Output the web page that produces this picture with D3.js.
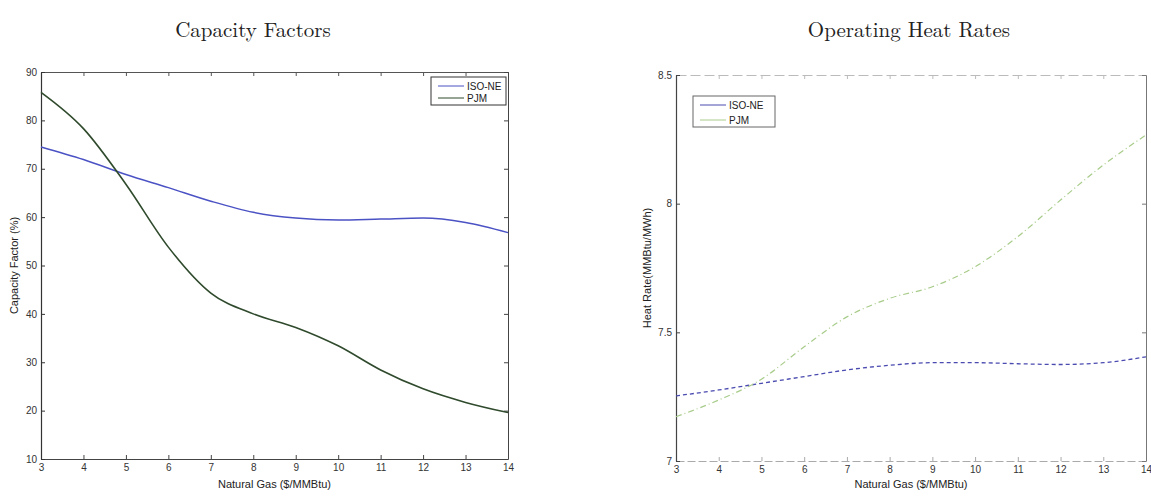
<!DOCTYPE html>
<html>
<head>
<meta charset="utf-8">
<script src="https://cdn.jsdelivr.net/npm/d3@7"></script>
<style>
  html, body { margin: 0; padding: 0; background: #fff; }
  svg { display: block; }
  .tick text { font-family: "Liberation Sans", Arial, sans-serif; font-size: 10px; fill: #333; }
</style>
</head>
<body>
<svg id="chart" width="1151" height="496"></svg>
<script>
// Natural gas price points ($/MMBtu)
const gasPrices = [3, 4, 5, 6, 7, 8, 9, 10, 11, 12, 13, 14];

// Capacity factors (%)
const capIsoNe = [74.5, 71.9, 68.8, 66.1, 63.3, 61.0, 59.8, 59.4, 59.6, 59.8, 58.9, 56.8];
const capPjm   = [85.8, 78.3, 66.8, 53.8, 44.3, 40.0, 37.2, 33.4, 28.4, 24.5, 21.7, 19.6];

// Operating heat rates (MMBtu/MWh)
const hrIsoNe = [7.253, 7.276, 7.302, 7.328, 7.354, 7.372, 7.382, 7.382, 7.378, 7.375, 7.382, 7.405];
const hrPjm   = [7.172, 7.237, 7.318, 7.444, 7.56, 7.632, 7.677, 7.755, 7.872, 8.014, 8.15, 8.267];

const xTicks = [3, 4, 5, 6, 7, 8, 9, 10, 11, 12, 13, 14];
const capTicks = [10, 20, 30, 40, 50, 60, 70, 80, 90];
const hrTicks = [7, 7.5, 8, 8.5];
const seriesNames = ["ISO-NE", "PJM"];

const svg = d3.select("#chart");
const serif = "'Latin Modern Roman', 'DejaVu Serif', 'Liberation Serif', serif";
const sans = "'Liberation Sans', Arial, sans-serif";

function panel(opts) {
  const { x0, x1, y0, y1, yDomain, yTicks, yFmt, title, titleX, yLabel, yLabelX,
          series, frame, legend } = opts;
  const g = svg.append("g");
  const x = d3.scaleLinear().domain([3, 14]).range([x0, x1]);
  const y = d3.scaleLinear().domain(yDomain).range([y1, y0]);

  // title
  g.append("text").attr("x", titleX).attr("y", 37).attr("text-anchor", "middle")
    .attr("font-family", serif).attr("font-size", 21).attr("fill", "#222").text(title);

  // bottom axis, ticks pointing inward
  const bx = g.append("g").attr("transform", `translate(0,${y1})`)
    .call(d3.axisBottom(x).tickValues(xTicks).tickSizeInner(-4).tickSizeOuter(0).tickPadding(5));
  bx.select(".domain").attr("stroke", frame.bottom).attr("stroke-dasharray", frame.bottomDash || null);
  bx.selectAll(".tick line").attr("stroke", frame.bottom);

  // top axis ticks
  const tx = g.append("g").attr("transform", `translate(0,${y0})`)
    .call(d3.axisTop(x).tickValues(xTicks).tickSizeInner(-4).tickSizeOuter(0).tickFormat(""));
  tx.select(".domain").attr("stroke", frame.top).attr("stroke-dasharray", frame.topDash || null);
  tx.selectAll(".tick line").attr("stroke", frame.top);

  // left axis
  const ly = g.append("g").attr("transform", `translate(${x0},0)`)
    .call(d3.axisLeft(y).tickValues(yTicks).tickFormat(yFmt).tickSizeInner(-4).tickSizeOuter(0).tickPadding(4));
  ly.select(".domain").attr("stroke", frame.left).attr("stroke-width", 1.2);
  ly.selectAll(".tick line").attr("stroke", frame.left);

  // right axis ticks
  const ry = g.append("g").attr("transform", `translate(${x1},0)`)
    .call(d3.axisRight(y).tickValues(yTicks).tickSizeInner(-4).tickSizeOuter(0).tickFormat(""));
  ry.select(".domain").attr("stroke", frame.right);
  ry.selectAll(".tick line").attr("stroke", frame.right);

  // axis titles
  g.append("text").attr("x", (x0 + x1) / 2).attr("y", 488).attr("text-anchor", "middle")
    .attr("font-family", sans).attr("font-size", 11).attr("fill", "#222").text("Natural Gas ($/MMBtu)");
  g.append("text").attr("transform", `translate(${yLabelX},${(y0 + y1) / 2}) rotate(-90)`)
    .attr("text-anchor", "middle").attr("font-family", sans).attr("font-size", 11)
    .attr("fill", "#222").text(yLabel);

  // curves
  const line = d3.line().x((d, i) => x(gasPrices[i])).y(d => y(d)).curve(d3.curveMonotoneX);
  series.forEach(s => {
    g.append("path").attr("d", line(s.values)).attr("fill", "none")
      .attr("stroke", s.color).attr("stroke-width", s.width)
      .attr("stroke-dasharray", s.dash || null);
  });

  // legend
  const lg = g.append("g");
  lg.append("rect").attr("x", legend.x).attr("y", legend.y).attr("width", legend.w).attr("height", legend.h)
    .attr("fill", "#fff").attr("stroke", legend.stroke).attr("stroke-width", 1);
  series.forEach((s, i) => {
    const ly2 = legend.y + legend.firstRow + i * legend.rowGap;
    lg.append("line").attr("x1", legend.x + 7).attr("x2", legend.x + 7 + legend.lineLen)
      .attr("y1", ly2).attr("y2", ly2).attr("stroke", s.color).attr("stroke-width", 1)
      .attr("stroke-dasharray", s.legendDash || null);
    lg.append("text").attr("x", legend.x + 10 + legend.lineLen).attr("y", ly2 + 3.5)
      .attr("font-family", sans).attr("font-size", 10).attr("fill", "#222").text(seriesNames[i]);
  });
}

panel({
  x0: 41, x1: 508, y0: 72, y1: 459,
  yDomain: [10, 90], yTicks: capTicks, yFmt: d3.format("d"),
  title: "Capacity Factors", titleX: 253,
  yLabel: "Capacity Factor (%)", yLabelX: 18,
  frame: { left: "#333", bottom: "#444", top: "#555", right: "#444" },
  series: [
    { values: capIsoNe, color: "#4b52c4", width: 1.5 },
    { values: capPjm, color: "#2f4a2c", width: 1.6 }
  ],
  legend: { x: 431, y: 77, w: 75, h: 28, firstRow: 9, rowGap: 12, lineLen: 26, stroke: "#333" }
});

panel({
  x0: 676, x1: 1146, y0: 75, y1: 461,
  yDomain: [7, 8.5], yTicks: hrTicks, yFmt: d => (d === 7 || d === 8) ? d3.format("d")(d) : d3.format(".1f")(d),
  title: "Operating Heat Rates", titleX: 909,
  yLabel: "Heat Rate(MMBtu/MWh)", yLabelX: 651,
  frame: { left: "#444", bottom: "#aaa", bottomDash: "8 3", top: "#bbb", topDash: "10 4", right: "#777" },
  series: [
    { values: hrIsoNe, color: "#4a4ab0", width: 1.3, dash: "4 3" },
    { values: hrPjm, color: "#a8cc8a", width: 1.2, dash: "6 3 1 3" }
  ],
  legend: { x: 693, y: 96, w: 82, h: 31, firstRow: 9, rowGap: 15, lineLen: 26, stroke: "#666" }
});
</script>
</body>
</html>
